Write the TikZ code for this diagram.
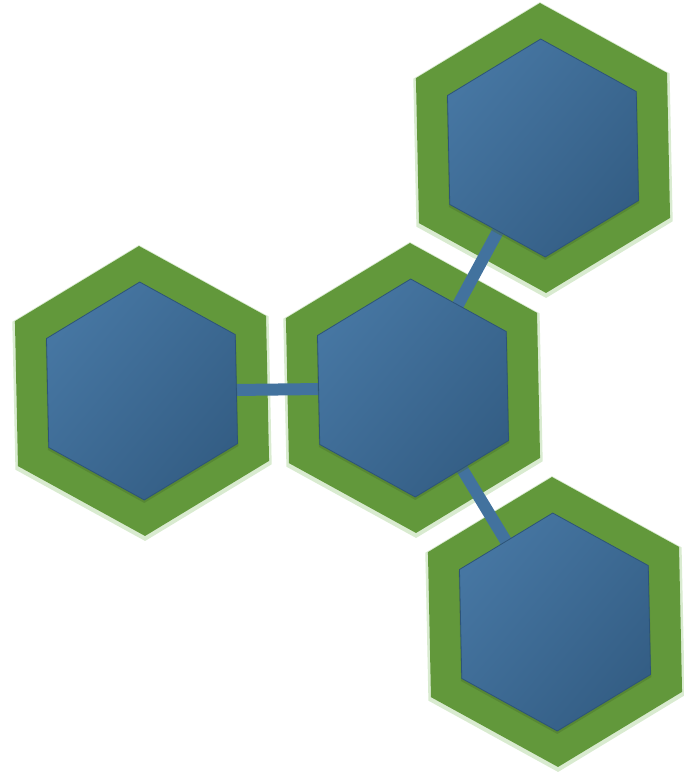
\documentclass[tikz,border=0pt]{standalone}
\definecolor{ringgreen}{RGB}{98,152,59}
\definecolor{glowgreen}{RGB}{170,210,150}
\definecolor{hexlight}{RGB}{70,118,162}
\definecolor{hexdark}{RGB}{52,94,133}
\definecolor{hexedge}{RGB}{45,84,120}
\definecolor{barblue}{RGB}{66,114,158}
\tikzset{
  pics/hexshape/.style 2 args={code={
    \path[#1] (-91.2:#2) -- (-31.2:#2) -- (28.8:#2) -- (88.8:#2) -- (148.8:#2) -- (208.8:#2) -- cycle;}},
  glowfill/.style={fill=glowgreen, fill opacity=0.45},
  ringfill/.style={fill=ringgreen},
  coreshadow/.style={fill=ringgreen!70!black, fill opacity=0.35},
  corefill/.style={draw=hexedge, line width=0.6pt, shading=axis, top color=hexlight, bottom color=hexdark, shading angle=50},
  link/.style={draw=barblue, line width=9pt}
}
\begin{document}
\begin{tikzpicture}[x=0.75pt,y=-0.75pt]
\useasboundingbox (0,0) rectangle (683,772);
\coordinate (L) at (142,391);
\coordinate (C) at (413,388);
\coordinate (T) at (543,148);
\coordinate (B) at (555,622);
% glow
\foreach \h in {L,C,T,B} { \pic[yshift=-1.5pt] at (\h) {hexshape={glowfill}{148}}; }
% rings
\foreach \h in {L,C,T,B} { \pic at (\h) {hexshape={ringfill}{145}}; }
% links
\draw[link] (L) -- (C);
\draw[link] (C) -- (T);
\draw[link] (C) -- (B);
% core shadows
\foreach \h in {L,C,T,B} { \pic[yshift=-1.5pt] at (\h) {hexshape={coreshadow}{110}}; }
% cores
\foreach \h in {L,C,T,B} { \pic at (\h) {hexshape={corefill}{109}}; }
\end{tikzpicture}
\end{document}
